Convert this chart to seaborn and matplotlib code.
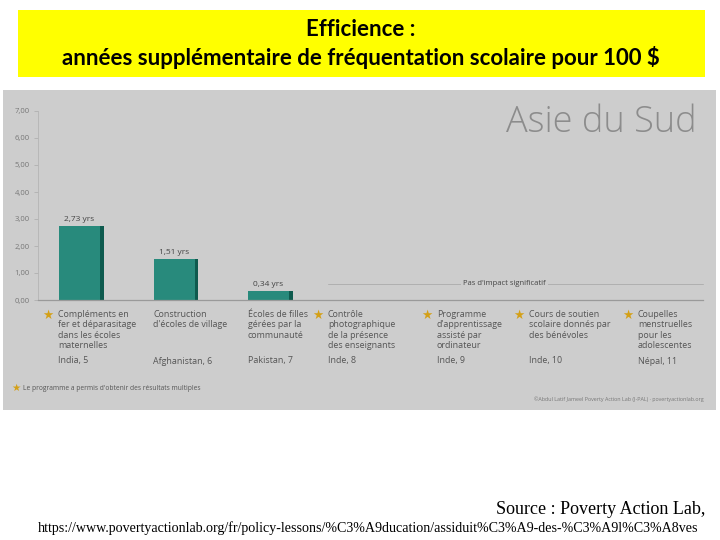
import numpy as np
import pandas as pd
import matplotlib
matplotlib.use("Agg")
import matplotlib.pyplot as plt
import matplotlib.transforms as mtransforms
from matplotlib.patches import Rectangle
import seaborn as sns

# ---------------- data ----------------
programs = [
    "Compléments en\nfer et déparasitage\ndans les écoles\nmaternelles",
    "Construction\nd'écoles de village",
    "Écoles de filles\ngérées par la\ncommunauté",
    "Contrôle\nphotographique\nde la présence\ndes enseignants",
    "Programme\nd'apprentissage\nassisté par\nordinateur",
    "Cours de soutien\nscolaire donnés par\ndes bénévoles",
    "Coupelles\nmenstruelles\npour les\nadolescentes",
]
countries = ["India, 5", "Afghanistan, 6", "Pakistan, 7", "Inde, 8",
             "Inde, 9", "Inde, 10", "Népal, 11"]
multiple_results = [True, False, False, True, True, True, True]
years = [2.73, 1.51, 0.34, np.nan, np.nan, np.nan, np.nan]
value_labels = ["2,73 yrs", "1,51 yrs", "0,34 yrs", "", "", "", ""]
yticks = [0, 1, 2, 3, 4, 5, 6, 7]
ytick_labels = ["0,00", "1,00", "2,00", "3,00", "4,00", "5,00", "6,00", "7,00"]

title_text = "Efficience :\nannées supplémentaire de fréquentation scolaire pour 100 $"
region_text = "Asie du Sud"
no_impact_text = "Pas d'impact significatif"
footnote_text = "Le programme a permis d'obtenir des résultats multiples"
credit_text = "©Abdul Latif Jameel Poverty Action Lab (J-PAL) · povertyactionlab.org"
source_text = "Source : Poverty Action Lab,"
url_text = "https://www.povertyactionlab.org/fr/policy-lessons/%C3%A9ducation/assiduit%C3%A9-des-%C3%A9l%C3%A8ves"

df = pd.DataFrame({"program": programs, "years": years})

# ---------------- style ----------------
sns.set_theme(style="white")
plt.rcParams["font.family"] = ["Open Sans", "DejaVu Sans"]

W, H = 720, 540
fig = plt.figure(figsize=(7.2, 5.4), dpi=100)
fig.patch.set_facecolor("white")

def fx(px):
    return px / W

def fy(py):
    return 1 - py / H

panel_color = "#cdcdcd"
teal = "#288a7c"
teal_dark = "#0e5a4e"
star_color = "#d4a017"
text_color = "#555555"

# yellow title box
fig.patches.append(Rectangle((fx(18), fy(77)), fx(705) - fx(18), fy(10) - fy(77),
                             transform=fig.transFigure, facecolor="#ffff00",
                             edgecolor="none", zorder=-2))
fig.text(fx(361), fy(44), title_text, ha="center", va="center", fontsize=16,
         fontweight="bold", family=["Lato", "DejaVu Sans"], color="black",
         linespacing=1.3)

# gray panel
fig.patches.append(Rectangle((fx(3), fy(410)), fx(716) - fx(3), fy(90) - fy(410),
                             transform=fig.transFigure, facecolor=panel_color,
                             edgecolor="none", zorder=-2))

# axes
ax = fig.add_axes([fx(38), fy(300), fx(703) - fx(38), fy(111) - fy(300)])
ax.set_facecolor("none")
ax.set_zorder(1)

bar_w = 0.434
x = np.arange(len(programs))
# darker right side of bars (3D effect)
ax.bar(x + 0.04, years, width=bar_w, color=teal_dark, linewidth=0, zorder=1)
sns.barplot(data=df.dropna(), x="program", y="years", order=programs,
            color=teal, saturation=1, width=bar_w, ax=ax, zorder=2,
            edgecolor="none", linewidth=0)

ax.set_xlim(-0.44, 6.6)
ax.set_ylim(0, 7)
ax.set_yticks(yticks)
ax.set_yticklabels(ytick_labels, fontsize=5.5, color="#777777")
ax.set_xticks([])
ax.set_xlabel("")
ax.set_ylabel("")
ax.tick_params(axis="y", length=3, width=0.5, color="#aaaaaa", pad=3, left=True)
for s in ["top", "right"]:
    ax.spines[s].set_visible(False)
ax.spines["left"].set_color("#b5b5b5")
ax.spines["left"].set_linewidth(0.6)
ax.spines["bottom"].set_color("#9a9a9a")
ax.spines["bottom"].set_linewidth(0.9)

# value labels
for i, (v, lab) in enumerate(zip(years, value_labels)):
    if lab:
        ax.text(i, v + 0.12, lab, ha="center", va="bottom", fontsize=6,
                color="#444444", zorder=3)

# "no significant impact" line
ax.plot([2.63, 6.6], [0.6, 0.6], color="#b0b0b0", lw=0.7, zorder=1, clip_on=False)
ax.text(4.5, 0.6, no_impact_text, ha="center", va="center", fontsize=5.5,
        color="#444444", zorder=2,
        bbox=dict(facecolor=panel_color, edgecolor="none", pad=1.5))

# region title
fig.text(fx(697), fy(123), region_text, ha="right", va="center", fontsize=26,
         fontweight="light", color="#8c8c8c")

# category labels
trans = mtransforms.blended_transform_factory(ax.transData, fig.transFigure)
label_dx = [-0.228, -0.222, -0.217, -0.37, -0.217, -0.243, -0.09]
for i, (prog, ctry, star) in enumerate(zip(programs, countries, multiple_results)):
    xl = i + label_dx[i]
    ax.text(xl, fy(310), prog, transform=trans, ha="left", va="top",
            fontsize=6.4, color=text_color, linespacing=1.2, clip_on=False)
    ax.text(xl, fy(361), ctry, transform=trans, ha="left", va="center",
            fontsize=6.4, color=text_color, clip_on=False)
    if star:
        ax.text(xl - 0.105, fy(315.5), "★", transform=trans, ha="center",
                va="center", fontsize=9, color=star_color, clip_on=False,
                family=["DejaVu Sans"])

# footnote and credit
fig.text(fx(16), fy(388), "★", ha="center", va="center", fontsize=7.5,
         color=star_color, family=["DejaVu Sans"])
fig.text(fx(23), fy(388), footnote_text, ha="left", va="center", fontsize=4.8,
         color="#555555")
fig.text(fx(704), fy(399), credit_text, ha="right", va="center", fontsize=3.9,
         color="#777777")

# source
fig.text(fx(705), fy(509), source_text, ha="right", va="center", fontsize=13,
         family=["Liberation Serif"], color="black")
fig.text(fx(368), fy(528), url_text, ha="center", va="center", fontsize=10.1,
         family=["Liberation Serif"], color="black")

fig.savefig("out.png", dpi=100)
